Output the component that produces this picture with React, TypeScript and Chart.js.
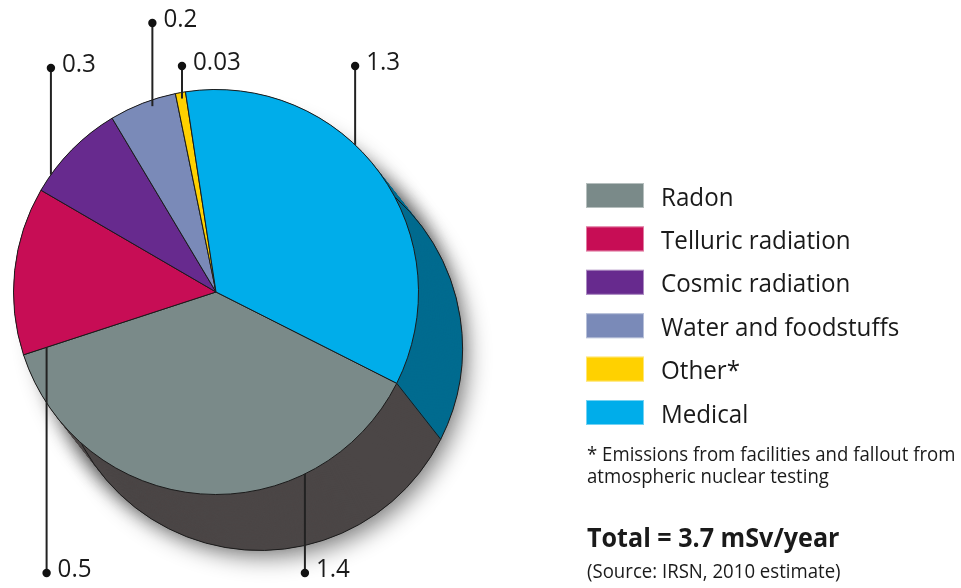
import React, { useEffect, useRef } from "react";
import { Chart, registerables } from "chart.js";

Chart.register(...registerables);

// ---- data ----
const categories = [
  "Radon",
  "Telluric radiation",
  "Cosmic radiation",
  "Water and foodstuffs",
  "Other*",
  "Medical",
];
const doses = [1.4, 0.5, 0.3, 0.2, 0.03, 1.3];
const doseLabels = ["1.4", "0.5", "0.3", "0.2", "0.03", "1.3"];
const footnoteLines = [
  "* Emissions from facilities and fallout from",
  "atmospheric nuclear testing",
];
const totalText = "Total = 3.7 mSv/year";
const sourceText = "(Source: IRSN, 2010 estimate)";

// ---- styles ----
const topColors = ["#7a8a89", "#c70d55", "#672a8e", "#7a8ab8", "#ffd100", "#00adea"];
const sideColors = ["#4b4646", "#6e0a30", "#3a1850", "#45507a", "#9a7e00", "#006b8f"];
const FONT = "'Open Sans', 'Noto Sans', sans-serif";
const SX = 0.93; // horizontal text compression
const EXTRUDE = { dx: 44, dy: 56, steps: 64 };
// callout anchor: fraction through slice, radius fraction, label dot y
const CALLOUTS = [
  { frac: 0.275, rad: 1.0, labelY: 573 },
  { frac: 0.0, rad: 0.88, labelY: 573 },
  { frac: 0.18, rad: 1.0, labelY: 68 },
  { frac: 0.62, rad: 0.97, labelY: 23 },
  { frac: 0.55, rad: 0.97, labelY: 66 },
  { frac: 0.415, rad: 1.0, labelY: 66 },
];
const LEGEND = { x: 586, y: 183, boxW: 58, boxH: 25, gap: 43.4, textX: 661 };

function txt(ctx: CanvasRenderingContext2D, s: string, x: number, y: number, font: string) {
  ctx.save();
  ctx.translate(x, y);
  ctx.scale(SX, 1);
  ctx.font = font;
  ctx.fillText(s, 0, 0);
  ctx.restore();
}

const extrudePlugin = {
  id: "extrude",
  beforeDatasetsDraw(chart: any) {
    const ctx: CanvasRenderingContext2D = chart.ctx;
    const meta = chart.getDatasetMeta(0);
    const arcs = meta.data.map((el: any) =>
      el.getProps(["x", "y", "startAngle", "endAngle", "outerRadius"], true)
    );
    if (!arcs.length) return;
    const { dx, dy, steps } = EXTRUDE;
    const a0 = arcs[0];
    ctx.save();
    // soft drop shadow
    ctx.shadowColor = "rgba(0,0,0,0.45)";
    ctx.shadowBlur = 22;
    ctx.shadowOffsetX = 6;
    ctx.shadowOffsetY = 8;
    ctx.fillStyle = sideColors[0];
    for (const t of [1, 0.66, 0.33]) {
      ctx.beginPath();
      ctx.arc(a0.x + dx * t, a0.y + dy * t, a0.outerRadius, 0, Math.PI * 2);
      ctx.fill();
    }
    ctx.restore();
    ctx.save();
    for (let k = steps; k >= 0; k--) {
      const t = k / steps;
      arcs.forEach((a: any, i: number) => {
        const cx = a.x + dx * t;
        const cy = a.y + dy * t;
        ctx.beginPath();
        ctx.moveTo(cx, cy);
        ctx.arc(cx, cy, a.outerRadius, a.startAngle, a.endAngle);
        ctx.closePath();
        ctx.fillStyle = sideColors[i];
        ctx.fill();
      });
    }
    // outer edge of bottom face + extruded boundary edges
    ctx.strokeStyle = "#1b1b1b";
    ctx.lineWidth = 1;
    arcs.forEach((a: any) => {
      ctx.beginPath();
      ctx.arc(a.x + dx, a.y + dy, a.outerRadius, a.startAngle, a.endAngle);
      ctx.stroke();
      const px = a.x + a.outerRadius * Math.cos(a.startAngle);
      const py = a.y + a.outerRadius * Math.sin(a.startAngle);
      ctx.beginPath();
      ctx.moveTo(px, py);
      ctx.lineTo(px + dx, py + dy);
      ctx.stroke();
    });
    ctx.restore();
  },
};

const calloutPlugin = {
  id: "callouts",
  afterDatasetsDraw(chart: any) {
    const ctx: CanvasRenderingContext2D = chart.ctx;
    const meta = chart.getDatasetMeta(0);
    ctx.save();
    meta.data.forEach((el: any, i: number) => {
      const a = el.getProps(["x", "y", "startAngle", "endAngle", "outerRadius"], true);
      const c = CALLOUTS[i];
      const ang = a.startAngle + c.frac * (a.endAngle - a.startAngle);
      const r = a.outerRadius * c.rad;
      const px = a.x + r * Math.cos(ang);
      const py = a.y + r * Math.sin(ang);
      ctx.strokeStyle = "#222";
      ctx.lineWidth = 2;
      ctx.beginPath();
      ctx.moveTo(px, py);
      ctx.lineTo(px, c.labelY);
      ctx.stroke();
      ctx.fillStyle = "#111";
      ctx.beginPath();
      ctx.arc(px, c.labelY, 4.2, 0, Math.PI * 2);
      ctx.fill();
      ctx.fillStyle = "#1a1a1a";
      ctx.textBaseline = "alphabetic";
      ctx.textAlign = "left";
      txt(ctx, doseLabels[i], px + 11, c.labelY + 4, `26px ${FONT}`);
    });
    ctx.restore();
  },
};

const legendPlugin = {
  id: "sideLegend",
  afterDraw(chart: any) {
    const ctx: CanvasRenderingContext2D = chart.ctx;
    ctx.save();
    ctx.textBaseline = "alphabetic";
    ctx.textAlign = "left";
    categories.forEach((name, i) => {
      const y = LEGEND.y + i * LEGEND.gap;
      ctx.fillStyle = topColors[i];
      ctx.fillRect(LEGEND.x, y, LEGEND.boxW, LEGEND.boxH);
      ctx.strokeStyle = "rgba(255,255,255,0.45)";
      ctx.lineWidth = 1;
      ctx.strokeRect(LEGEND.x + 0.5, y + 0.5, LEGEND.boxW - 1, LEGEND.boxH - 1);
      ctx.fillStyle = "#1a1a1a";
      txt(ctx, name, LEGEND.textX, y + LEGEND.boxH / 2 + 10, `26px ${FONT}`);
    });
    footnoteLines.forEach((line, i) => {
      txt(ctx, line, 587, 461 + i * 22, `20px ${FONT}`);
    });
    txt(ctx, totalText, 587, 547, `bold 27px ${FONT}`);
    txt(ctx, sourceText, 587, 578, `20px ${FONT}`);
    ctx.restore();
  },
};

export default function App() {
  const ref = useRef<HTMLCanvasElement | null>(null);
  useEffect(() => {
    if (!ref.current) return;
    const chart = new Chart(ref.current, {
      type: "pie",
      data: {
        labels: categories,
        datasets: [
          {
            data: doses,
            backgroundColor: topColors,
            borderColor: "#1b1b1b",
            borderWidth: 1,
          },
        ],
      },
      options: {
        responsive: false,
        maintainAspectRatio: false,
        animation: false,
        rotation: 116.8,
        layout: { padding: { left: 13, right: 542, top: 89, bottom: 93 } },
        plugins: {
          legend: { display: false },
          tooltip: { enabled: false },
        },
        events: [],
      },
      plugins: [extrudePlugin, calloutPlugin, legendPlugin],
    });
    return () => chart.destroy();
  }, []);
  return (
    <div style={{ position: "absolute", left: 0, top: 0, width: 961, height: 588, background: "#fff" }}>
      <canvas ref={ref} width={961} height={588} style={{ display: "block" }} />
    </div>
  );
}
